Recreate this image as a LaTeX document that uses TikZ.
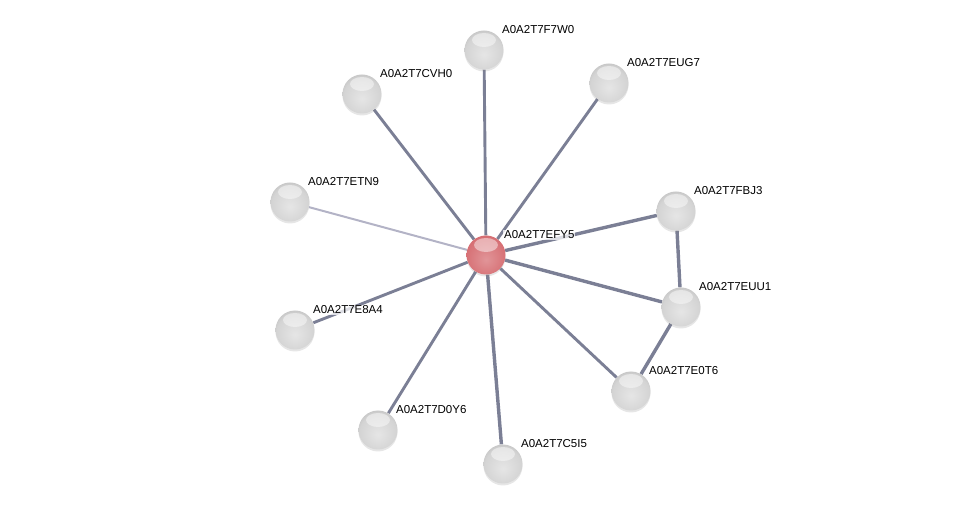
\documentclass[tikz,border=0pt]{standalone}
\usepackage{fontspec}
\setmainfont{Liberation Sans}
\usepackage{tikz}
\usetikzlibrary{positioning,backgrounds,shadows,calc}
\definecolor{edgec}{HTML}{7B7F95}
\definecolor{edgelt}{HTML}{B3B3C6}
\definecolor{qred}{HTML}{D4676C}
\definecolor{qrim}{HTML}{94393E}
\pgfdeclareradialshading{glossgray}{\pgfpoint{0bp}{-6bp}}{%
  color(0bp)=(black!10); color(24bp)=(black!17); color(34bp)=(black!27);
  color(42bp)=(black!42); color(48bp)=(black!58); color(70bp)=(black!62)}
\pgfdeclareradialshading{glossred}{\pgfpoint{0bp}{-6bp}}{%
  color(0bp)=(qred!70!white); color(24bp)=(qred!92!white); color(34bp)=(qred);
  color(42bp)=(qred!60!qrim); color(48bp)=(qrim); color(70bp)=(qrim)}
\tikzset{
  prot/.style={circle, minimum size=39pt, inner sep=0pt, shading=glossgray,
               drop shadow={opacity=0.2,shadow xshift=0pt,shadow yshift=-2pt},
               path picture={\fill[white, opacity=0.45]
                 ($(path picture bounding box.center)+(0,-10)$) ellipse (12pt and 7pt);}},
  hub/.style={prot, shading=glossred},
  lbl/.style={fill=white, fill opacity=0.75, text opacity=1, inner sep=1pt,
              font=\fontsize{11.5}{12}\selectfont},
  pe/.style={draw=edgec, line width=2.9pt},                 % protein edge
  we/.style={draw=edgelt, line width=2pt},                  % weak edge
  se/.style={draw=edgec, line width=3.4pt},                 % strong edge
}
\begin{document}
\begin{tikzpicture}[x=1pt,y=-1pt]
  \useasboundingbox (0,0) rectangle (975,510);
  \node[hub] (qEFY5) at (486,255) {};
  \node[lbl, above right=1pt and 3pt of qEFY5] (lEFY5) {A0A2T7EFY5};
  \foreach \n/\x/\y in {F7W0/484/50, CVH0/362/94, EUG7/609/83, ETN9/290/202,
                        FBJ3/676/211, EUU1/681/307, E8A4/295/330, E0T6/631/391,
                        D0Y6/378/430, C5I5/503/464} {
    \node[prot] (q\n) at (\x,\y) {};
    \node[lbl, above right=1pt and 3pt of q\n] (l\n) {A0A2T7\n};
  }
  \begin{scope}[on background layer]
    \foreach \v in {F7W0,CVH0,EUG7,E8A4,E0T6,D0Y6} \draw[pe] (qEFY5)--(q\v);
    \foreach \v in {FBJ3,EUU1,C5I5} \draw[se] (qEFY5)--(q\v);
    \draw[we] (qEFY5)--(qETN9);
    \draw[se] (qFBJ3)--(qEUU1);
    \draw[se] (qEUU1)--(qE0T6);
  \end{scope}
\end{tikzpicture}
\end{document}
